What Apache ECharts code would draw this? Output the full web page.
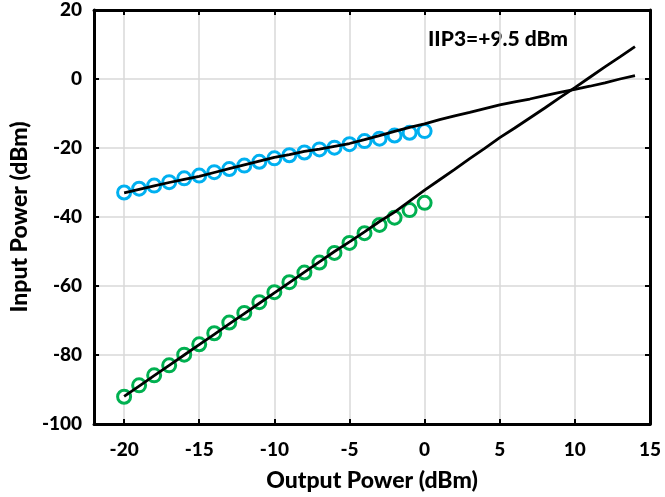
<!DOCTYPE html>
<html>
<head>
<meta charset="utf-8">
<script src="https://cdn.jsdelivr.net/npm/echarts@6/dist/echarts.min.js"></script>
<style>
  html, body { margin: 0; padding: 0; background: #fff; }
  #chart { width: 665px; height: 497px; }
</style>
</head>
<body>
<div id="chart"></div>
<script>
// measured points, output power -20..0 dBm
const measX = [-20, -19, -18, -17, -16, -15, -14, -13, -12, -11, -10, -9, -8, -7, -6, -5, -4, -3, -2, -1, 0];
const fundMeas = [-32.9, -31.8, -30.9, -29.9, -28.8, -28.0, -27.0, -26.1, -25.1, -24.0, -23.0, -22.1, -21.3, -20.4, -19.9, -18.9, -18.0, -17.3, -16.4, -15.6, -15.1];
const im3Meas = [-92.1, -88.8, -85.9, -83.0, -79.9, -76.9, -73.7, -70.6, -67.8, -64.7, -61.8, -58.9, -56.1, -53.2, -50.4, -47.5, -44.7, -42.3, -40.2, -38.0, -35.9];

// simulated curves, -20..14 dBm
const simX = [-20, -19, -18, -17, -16, -15, -14, -13, -12, -11, -10, -9, -8, -7, -6, -5, -4, -3, -2, -1, 0, 1, 2, 3, 4, 5, 6, 7, 8, 9, 10, 11, 12, 13, 14];
const fundSim = [-33.0, -32.0, -31.0, -30.0, -29.1, -28.2, -27.1, -26.0, -24.9, -23.8, -22.7, -21.9, -21.0, -20.3, -19.5, -18.7, -17.6, -16.4, -15.2, -14.0, -13.0, -11.8, -10.7, -9.7, -8.6, -7.5, -6.6, -5.8, -4.8, -3.9, -3.0, -2.1, -1.1, 0.0, 1.0];
const im3Sim = [-92.0, -89.0, -86.0, -83.0, -80.0, -77.0, -74.0, -71.0, -68.0, -65.0, -62.0, -59.0, -56.0, -53.0, -50.0, -47.2, -44.3, -41.3, -38.6, -35.4, -32.2, -29.2, -26.2, -23.1, -20.1, -17.0, -14.2, -11.3, -8.4, -5.4, -2.5, 0.5, 3.5, 6.4, 9.4];

const xTicks = [-20, -15, -10, -5, 0, 5, 10, 15];
const annotation = "IIP3=+9.5 dBm";

const zip = (xs, ys) => xs.map((x, i) => [x, ys[i]]);
const font = "Lato, 'Open Sans', sans-serif";

const chart = echarts.init(document.getElementById("chart"));
const axisLine = { show: true, onZero: false, lineStyle: { color: "#000", width: 3 } };
const tick = { show: true, inside: true, length: 5, lineStyle: { color: "#000", width: 2 } };
const labelStyle = { fontSize: 19, fontWeight: 900, color: "#000", fontFamily: font };
const nameStyle = { fontSize: 23, fontWeight: 900, color: "#000", fontFamily: font };

chart.setOption({
  animation: false,
  textStyle: { fontFamily: font },
  grid: { left: 89, right: 15, top: 10, bottom: 69 },
  xAxis: [
    {
      type: "value", min: -22, max: 15, position: "bottom",
      name: "Output Power (dBm)", nameLocation: "middle", nameGap: 45,
      nameTextStyle: nameStyle,
      axisLine,
      axisTick: Object.assign({ customValues: xTicks }, tick),
      axisLabel: Object.assign({ customValues: xTicks, margin: 16 }, labelStyle),
      splitLine: { show: true, lineStyle: { color: "#d9d9d9", width: 1.5 } },
    },
    {
      type: "value", min: -22, max: 15, position: "top",
      axisLine,
      axisTick: Object.assign({ customValues: xTicks }, tick),
      axisLabel: { show: false },
      splitLine: { show: false },
    },
  ],
  yAxis: [
    {
      type: "value", min: -100, max: 20, interval: 20, position: "left",
      name: "Input Power (dBm)", nameLocation: "middle", nameGap: 62,
      nameTextStyle: nameStyle,
      axisLine, axisTick: tick,
      axisLabel: Object.assign({ margin: 12 }, labelStyle),
      splitLine: { show: true, lineStyle: { color: "#d9d9d9", width: 1.5 } },
    },
    {
      type: "value", min: -100, max: 20, interval: 20, position: "right",
      axisLine, axisTick: tick,
      axisLabel: { show: false },
      splitLine: { show: false },
    },
  ],
  series: [
    {
      type: "scatter", data: zip(measX, fundMeas), symbol: "circle", symbolSize: 13,
      itemStyle: { color: "#fff", borderColor: "#00b0f0", borderWidth: 3, opacity: 1 }, z: 2,
    },
    {
      type: "scatter", data: zip(measX, im3Meas), symbol: "circle", symbolSize: 13,
      itemStyle: { color: "#fff", borderColor: "#00b050", borderWidth: 3, opacity: 1 }, z: 2,
    },
    {
      type: "line", data: zip(simX, fundSim), showSymbol: false,
      lineStyle: { color: "#000", width: 2.8 }, z: 3,
    },
    {
      type: "line", data: zip(simX, im3Sim), showSymbol: false,
      lineStyle: { color: "#000", width: 2.8 }, z: 3,
    },
  ],
  graphic: [
    {
      type: "text", left: 428, top: 29,
      style: { text: annotation, font: "900 21px " + font, fill: "#000" },
    },
  ],
});
</script>
</body>
</html>
